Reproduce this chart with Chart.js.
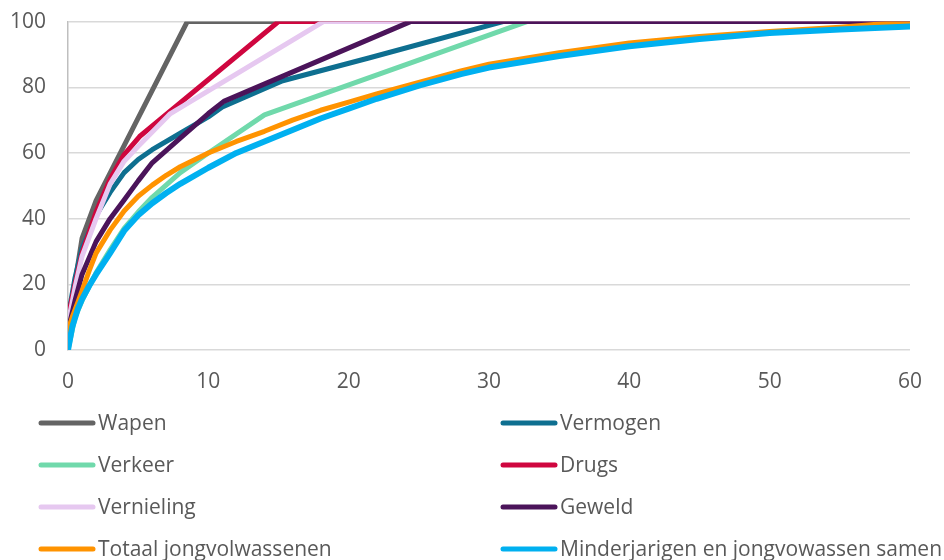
<!DOCTYPE html>
<html>
<head>
<meta charset="utf-8">
<script src="https://cdn.jsdelivr.net/npm/chart.js@4.4.1/dist/chart.umd.min.js"></script>
<style>
  html, body { margin: 0; padding: 0; background: #fff; }
  #wrap { width: 944px; height: 560px; position: relative; overflow: hidden; }
  #inner { position: absolute; left: 0; top: -13px; width: 944px; height: 573px; }
</style>
</head>
<body>
<div id="wrap"><div id="inner"><canvas id="curveChart"></canvas></div></div>
<script>
// x = tijd, y = cumulatief percentage
const wapenX = [0, 1, 2, 8.5, 60];
const wapenY = [7, 34, 45.5, 100, 100];

const vermogenX = [0, 0.5, 1, 2, 3, 4, 5, 6, 8, 10, 11, 15.3, 21.5, 31, 60];
const vermogenY = [10, 22, 31, 41, 48, 54, 58, 61, 66, 71, 74, 82, 89, 100, 100];

const verkeerX = [0, 0.5, 1, 2, 3, 4, 5, 6, 8, 10, 14, 32.7, 60];
const verkeerY = [0, 10, 15, 23.5, 30.5, 37, 42, 46.5, 54, 60, 71.6, 100, 100];

const drugsX = [0, 0.5, 1, 2, 3, 4, 5.1, 15, 60];
const drugsY = [10, 20, 29.5, 42, 52, 59.5, 65, 100, 100];

const vernielingX = [0, 0.5, 1, 2, 3, 4, 5, 7.3, 18.2, 60];
const vernielingY = [8, 19, 28.5, 40, 50.5, 57.5, 62, 72, 100, 100];

const geweldX = [0, 0.5, 1, 2, 3, 4, 5, 6, 8, 10, 11.1, 24.4, 60];
const geweldY = [6, 15, 23, 33, 40, 45.7, 51.5, 57, 64.5, 72, 75.7, 100, 100];

const totaalX = [0, 0.3, 0.7, 1, 1.5, 2, 3, 4, 5, 6, 7, 8, 10, 12, 14, 16, 18, 20, 22, 25, 28, 30, 35, 40, 45, 50, 55, 60];
const totaalY = [6, 10, 14.5, 18, 24, 29.5, 36.5, 42.3, 46.8, 50.2, 53.2, 55.8, 60, 63.5, 66.6, 70, 73, 75.5, 78, 81.5, 85, 87, 90.5, 93.5, 95.5, 97, 98.3, 100];

const samenX = [0, 0.3, 0.7, 1, 1.5, 2, 3, 4, 5, 6, 7, 8, 10, 12, 14, 16, 18, 20, 22, 25, 28, 30, 35, 40, 45, 50, 55, 60];
const samenY = [0, 7, 12.5, 15.5, 19.5, 23, 29.5, 36.3, 41, 44.7, 47.8, 50.6, 55.5, 60, 63.5, 67, 70.5, 73.5, 76.5, 80.5, 84, 86, 89.5, 92.5, 94.7, 96.5, 97.6, 98.5];

const xTicks = [0, 10, 20, 30, 40, 50, 60];
const yTicks = [0, 20, 40, 60, 80, 100];

const seriesNames = ['Wapen', 'Vermogen', 'Verkeer', 'Drugs', 'Vernieling', 'Geweld',
    'Totaal jongvolwassenen', 'Minderjarigen en jongvowassen samen'];
const seriesX = [wapenX, vermogenX, verkeerX, drugsX, vernielingX, geweldX, totaalX, samenX];
const seriesY = [wapenY, vermogenY, verkeerY, drugsY, vernielingY, geweldY, totaalY, samenY];
const colors = ['#646464', '#0e6f90', '#70d9ab', '#cf063f', '#e6c8f0', '#4b145a', '#ff9300', '#00b0f0'];
const widths = [5, 5, 5, 5, 5, 5, 5, 6];

const FONT = '"Open Sans", "Noto Sans", sans-serif';
const TEXT = '#595959';

function toPoints(xs, ys) {
    return xs.map((x, i) => ({ x: x, y: ys[i] }));
}

const datasets = seriesNames.map((name, i) => ({
    label: name,
    data: toPoints(seriesX[i], seriesY[i]),
    borderColor: colors[i],
    backgroundColor: colors[i],
    borderWidth: widths[i],
    pointRadius: 0,
    tension: 0,
    fill: false,
    borderCapStyle: 'round',
    borderJoinStyle: 'round',
    order: seriesNames.length - i
}));

// legenda in twee kolommen onder de grafiek (canvas staat 13px hoger)
const legendPlugin = {
    id: 'twoColLegend',
    afterDraw(chart) {
        const ctx = chart.ctx;
        ctx.save();
        ctx.font = '21px ' + FONT;
        ctx.textBaseline = 'middle';
        ctx.lineCap = 'round';
        seriesNames.forEach((name, i) => {
            const col = i % 2;
            const row = Math.floor(i / 2);
            const x0 = col === 0 ? 41 : 503;
            const y = 436 + row * 42;
            ctx.strokeStyle = colors[i];
            ctx.lineWidth = 5;
            ctx.beginPath();
            ctx.moveTo(x0, y);
            ctx.lineTo(x0 + 52, y);
            ctx.stroke();
            ctx.fillStyle = TEXT;
            ctx.fillText(name, x0 + 57, y + 1);
        });
        ctx.restore();
    }
};

new Chart(document.getElementById('curveChart'), {
    type: 'line',
    data: { datasets: datasets },
    options: {
        responsive: true,
        maintainAspectRatio: false,
        animation: false,
        layout: {
            padding: { left: 0, right: 34, top: 0, bottom: 165 }
        },
        plugins: {
            legend: { display: false },
            tooltip: { enabled: false }
        },
        scales: {
            x: {
                type: 'linear',
                min: 0,
                max: 60,
                afterBuildTicks: s => { s.ticks = xTicks.map(v => ({ value: v })); },
                grid: { display: false, drawTicks: false },
                border: { display: false },
                ticks: {
                    color: TEXT,
                    font: { family: FONT, size: 21 },
                    padding: 19,
                    maxRotation: 0
                },
                afterFit: s => { s.height = 45; }
            },
            y: {
                min: 0,
                max: 100,
                afterBuildTicks: s => { s.ticks = yTicks.map(v => ({ value: v })); },
                grid: { color: '#d9d9d9', lineWidth: 1.5, drawTicks: false },
                border: { display: true, color: '#bfbfbf', width: 1.5 },
                ticks: {
                    color: TEXT,
                    font: { family: FONT, size: 21 },
                    padding: 22
                },
                afterFit: s => { s.width = 68; }
            }
        }
    },
    plugins: [legendPlugin]
});
</script>
</body>
</html>
